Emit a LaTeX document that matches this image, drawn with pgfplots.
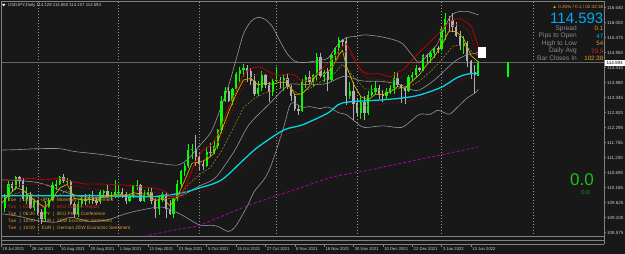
\documentclass[border=0pt]{standalone}
\usepackage{pgfplots}
\pgfplotsset{compat=1.18}
\usepackage{pgfplotstable}
\usepackage{fontspec}
\setmainfont{Liberation Sans}
\definecolor{bg}{RGB}{24,24,24}
\definecolor{framec}{RGB}{130,130,130}
\definecolor{sepc}{RGB}{150,150,150}
\definecolor{bullc}{RGB}{0,255,0}
\definecolor{bearc}{RGB}{175,175,175}
\definecolor{cyanl}{RGB}{0,215,225}
\definecolor{magl}{RGB}{175,0,175}
\definecolor{bbl}{RGB}{150,150,150}
\definecolor{redl}{RGB}{200,0,0}
\definecolor{dredl}{RGB}{140,10,10}
\definecolor{yell}{RGB}{205,180,0}
\definecolor{olivel}{RGB}{150,130,20}
\definecolor{txt}{RGB}{205,205,205}
\definecolor{orangec}{RGB}{230,155,40}
\definecolor{evred}{RGB}{215,40,30}
\definecolor{bluec}{RGB}{0,170,245}
\definecolor{greenc}{RGB}{30,190,30}
\newcommand{\fs}[1]{\fontsize{#1}{#1}\selectfont}

\pgfplotstableread{
x o h l c
1 109.45 109.95 109.30 109.85
2 109.85 110.40 109.70 110.30
4 110.15 110.60 110.10 110.55
7 109.78 110.20 109.60 109.90
9 109.45 109.75 109.35 109.70
12 109.05 109.70 108.95 109.50
13 109.50 109.80 109.45 109.75
14 109.75 110.37 109.70 110.25
15 110.25 110.45 110.10 110.30
16 110.30 110.60 110.25 110.55
18 110.38 110.50 110.30 110.42
21 109.25 109.70 109.15 109.60
22 109.60 109.90 109.50 109.75
24 109.72 109.95 109.60 109.80
27 109.65 110.10 109.60 110.00
28 110.00 110.10 109.80 110.05
30 109.85 110.00 109.75 109.90
31 109.90 110.45 109.80 110.00
32 110.00 110.25 109.85 110.02
35 109.70 109.90 109.65 109.85
36 109.85 110.25 109.80 110.25
37 110.25 110.45 110.10 110.28
39 109.70 110.10 109.68 109.90
40 109.90 110.15 109.85 110.00
43 109.40 109.90 109.20 109.75
44 109.75 110.00 109.65 109.95
47 109.25 109.85 109.10 109.80
48 109.80 110.45 109.70 110.30
49 110.30 110.80 110.20 110.75
50 110.75 111.05 110.60 110.95
51 110.95 111.70 110.85 111.50
52 111.50 111.70 111.20 111.55
56 110.95 111.60 110.90 111.45
58 111.40 111.85 111.35 111.65
59 111.65 112.25 111.55 112.20
60 112.20 113.40 112.10 113.25
61 113.25 113.75 113.20 113.60
63 113.25 113.70 113.10 113.65
64 113.65 114.25 113.60 114.20
65 114.20 114.45 113.90 114.35
66 114.35 114.55 114.10 114.40
70 113.50 113.95 113.40 113.70
71 113.70 114.30 113.60 114.15
74 113.55 114.00 113.40 113.95
75 113.95 114.45 113.90 114.00
77 113.95 114.20 113.60 114.05
82 112.90 114.00 112.85 113.90
83 113.90 114.15 113.70 114.10
85 113.90 114.20 113.75 114.15
86 114.15 114.95 113.95 114.80
88 114.10 114.35 113.90 114.25
90 114.00 114.90 113.95 114.85
91 114.85 115.15 114.70 115.10
92 115.10 115.50 114.90 115.40
95 113.40 113.90 113.30 113.60
98 112.80 113.40 112.60 113.20
100 112.80 113.60 112.75 113.45
101 113.45 113.80 113.40 113.55
102 113.55 113.95 113.50 113.70
105 113.40 113.70 113.30 113.55
106 113.55 113.80 113.50 113.70
107 113.70 114.25 113.50 114.05
111 113.60 114.15 113.55 114.10
112 114.10 114.25 113.95 114.15
113 114.15 114.50 114.05 114.40
115 114.35 114.90 114.30 114.85
117 114.80 115.00 114.60 114.95
118 114.95 115.15 114.75 115.10
120 115.08 115.85 115.00 115.80
121 115.80 116.35 115.40 116.15
126 115.20 115.55 114.90 115.30
130 114.128 114.650 114.107 114.593
}\bull

\pgfplotstableread{
x o h l c
0 110.05 110.10 109.35 109.45
3 110.30 110.38 110.00 110.15
5 110.55 110.59 110.20 110.40
6 110.40 110.50 109.70 109.78
8 109.90 110.00 109.40 109.45
10 109.70 109.75 109.20 109.30
11 109.30 109.40 108.90 109.05
17 110.55 110.65 110.35 110.40
19 110.42 110.45 109.55 109.60
20 109.60 109.65 109.10 109.25
23 109.75 109.95 109.55 109.72
25 109.80 110.05 109.60 109.70
26 109.70 109.85 109.55 109.65
29 110.05 110.25 109.80 109.85
33 110.02 110.15 109.80 109.95
34 109.95 110.00 109.60 109.70
38 110.28 110.30 109.65 109.70
41 110.00 110.15 109.60 109.70
42 109.70 109.80 109.10 109.40
45 109.95 110.00 109.10 109.40
46 109.40 109.75 109.20 109.25
53 111.55 112.05 110.95 111.25
54 111.25 111.40 110.80 111.00
55 111.00 111.10 110.80 110.95
57 111.45 111.75 111.25 111.40
62 113.60 113.75 113.20 113.25
67 114.40 114.50 113.90 114.30
68 114.30 114.40 113.80 113.95
69 113.95 114.20 113.40 113.50
72 114.15 114.20 113.70 113.80
73 113.80 113.90 113.20 113.55
76 114.00 114.10 113.70 113.95
78 114.05 114.20 113.65 113.75
79 113.75 113.80 113.25 113.40
80 113.40 113.50 112.90 112.95
81 112.95 113.10 112.75 112.90
84 114.10 114.30 113.80 113.90
87 114.80 114.95 114.05 114.12
89 114.25 114.40 113.60 114.00
93 115.40 115.45 115.20 115.35
94 115.35 115.50 113.10 113.40
96 113.60 113.90 112.55 113.15
97 113.15 113.35 112.70 112.80
99 113.20 113.40 112.55 112.80
103 113.70 113.80 113.30 113.50
104 113.50 113.60 113.20 113.40
108 114.05 114.25 113.75 113.80
109 113.80 113.85 113.15 113.70
110 113.70 113.75 113.15 113.60
114 114.40 114.45 114.25 114.35
116 114.85 114.90 114.60 114.80
119 115.10 115.20 114.95 115.08
122 116.15 116.25 115.70 116.10
123 116.10 116.35 115.70 115.85
124 115.85 116.05 115.50 115.55
125 115.55 115.70 115.05 115.20
127 115.30 115.35 114.45 114.65
128 114.65 114.70 114.00 114.20
129 114.25 114.50 113.50 114.15
}\bear

\begin{document}
\begin{tikzpicture}
\fill[bg] (0,0) rectangle (625bp,254bp);
\begin{axis}[
  at={(1bp,18bp)}, anchor=south west,
  width=603bp, height=235bp, scale only axis,
  xmin=-0.027, xmax=164.23, ymin=108.459, ymax=116.778,
  hide axis,
]
% period separators
\addplot[sepc, line width=0.5bp, dash pattern=on 1bp off 2bp] coordinates {(10,108) (10,117)};
\addplot[sepc, line width=0.5bp, dash pattern=on 1bp off 2bp] coordinates {(32,108) (32,117)};
\addplot[sepc, line width=0.5bp, dash pattern=on 1bp off 2bp] coordinates {(54,108) (54,117)};
\addplot[sepc, line width=0.5bp, dash pattern=on 1bp off 2bp] coordinates {(75,108) (75,117)};
\addplot[sepc, line width=0.5bp, dash pattern=on 1bp off 2bp] coordinates {(97,108) (97,117)};
\addplot[sepc, line width=0.5bp, dash pattern=on 1bp off 2bp] coordinates {(120,108) (120,117)};
\addplot[sepc, line width=0.5bp, dash pattern=on 1bp off 2bp] coordinates {(144.9,108) (144.9,117)};
% current price line
\addplot[color=black!60, line width=0.7bp] coordinates {(-1,114.593) (170,114.593)};

% candles: wicks and bodies
\addplot[draw=none, forget plot, error bars/.cd, y dir=both, y explicit, error mark=none,
  error bar style={color=bullc, line width=0.8bp}]
  table[x=x, y expr=(\thisrow{h}+\thisrow{l})/2, y error expr=(\thisrow{h}-\thisrow{l})/2] {\bull};
\addplot[draw=none, forget plot, error bars/.cd, y dir=both, y explicit, error mark=none,
  error bar style={color=bullc, line width=2.3bp}]
  table[x=x, y expr=(\thisrow{o}+\thisrow{c})/2, y error expr=abs(\thisrow{c}-\thisrow{o})/2] {\bull};
\addplot[draw=none, forget plot, error bars/.cd, y dir=both, y explicit, error mark=none,
  error bar style={color=bearc, line width=0.8bp}]
  table[x=x, y expr=(\thisrow{h}+\thisrow{l})/2, y error expr=(\thisrow{h}-\thisrow{l})/2] {\bear};
\addplot[draw=none, forget plot, error bars/.cd, y dir=both, y explicit, error mark=none,
  error bar style={color=bearc, line width=2.3bp}]
  table[x=x, y expr=(\thisrow{o}+\thisrow{c})/2, y error expr=abs(\thisrow{c}-\thisrow{o})/2] {\bear};

% Bollinger bands (gray)
\addplot[bbl, line width=0.6bp, smooth, tension=0.5] coordinates {
(0,111.50)(5,111.52)(10,111.55)(16,111.55)(20,111.45)(27,111.35)(32,111.25)(36,111.15)(42,111.05)(48,110.97)(51,111.20)(54,111.65)(57,112.10)(59,112.70)(62,113.80)(64,114.70)(66,115.60)(68,116.05)(70,116.20)(72,116.12)(74,115.85)(76,115.35)(78,114.90)(80,114.65)(82,114.60)(84,114.62)(87,114.69)(89,114.75)(92,115.28)(94,115.48)(97,115.53)(99,115.58)(104,115.50)(109,115.30)(112,114.85)(114,114.60)(117,114.99)(119,115.30)(122,116.15)(124,116.38)(127,116.41)(129,116.33)(130,116.29)};
\addplot[bbl, line width=0.6bp, smooth, tension=0.5] coordinates {
(0,110.45)(10,110.35)(19,109.95)(24,109.82)(29,109.83)(34,109.91)(39,109.85)(44,109.88)(49,109.89)(54,110.23)(57,110.40)(59,110.61)(62,111.16)(64,111.57)(67,112.30)(69,112.62)(72,113.00)(74,113.26)(77,113.67)(79,113.84)(82,113.82)(84,113.83)(87,113.83)(89,113.87)(92,114.05)(94,114.12)(97,113.99)(99,113.94)(104,113.93)(109,113.80)(112,113.63)(114,113.63)(117,113.88)(119,114.09)(122,114.46)(124,114.68)(127,114.88)(129,114.92)(130,114.97)};
\addplot[bbl, line width=0.6bp, smooth, tension=0.5] coordinates {
(0,109.25)(5,109.15)(10,109.00)(15,108.95)(19,109.12)(24,108.98)(29,109.03)(34,109.25)(39,109.40)(44,109.48)(49,109.22)(54,108.85)(57,108.84)(59,108.80)(62,108.62)(64,108.83)(67,109.50)(69,110.04)(72,110.53)(74,111.12)(77,112.32)(79,113.16)(82,113.01)(84,113.04)(87,112.97)(89,113.03)(92,112.82)(94,112.76)(97,112.45)(99,112.30)(104,112.36)(109,112.30)(112,112.57)(114,112.77)(117,112.77)(119,112.91)(122,112.77)(124,112.98)(127,113.35)(129,113.51)(130,113.65)};

% magenta dashed long average
\addplot[magl, line width=0.8bp, dash pattern=on 3bp off 2bp, smooth] coordinates {
(35,108.30)(40.6,108.49)(48.7,108.71)(54.2,108.85)(67.8,109.56)(81.4,110.16)(90.4,110.55)(100.5,110.80)(115,111.20)(130,111.61)};

% dark red dotted near cyan
\addplot[dredl, line width=0.6bp, dash pattern=on 1bp off 1.5bp, smooth] coordinates {
(40,109.75)(49,109.85)(54,110.02)(60,110.28)(66,110.95)(70,111.42)(77,112.02)(82,112.22)(89,112.65)(93,112.98)(103,113.12)(109,113.22)(114,113.32)(120,113.58)(124,113.90)(127,114.05)(130,114.10)};

% cyan average
\addplot[cyanl, line width=1.3bp, smooth, tension=0.5] coordinates {
(0,109.88)(27,109.88)(41,109.85)(49,109.98)(54,110.16)(60,110.44)(66,111.15)(70,111.61)(77,112.21)(82,112.39)(89,112.81)(93,113.17)(103,113.27)(109,113.34)(114,113.45)(120,113.73)(124,114.05)(127,114.19)(130,114.22)};

% olive dashed
\addplot[olivel, line width=0.6bp, dash pattern=on 2bp off 1.5bp] coordinates {
(0,109.80)(3,109.92)(6,110.03)(9,109.90)(12,109.67)(15,109.84)(18,110.07)(21,109.85)(24,109.82)(27,109.81)(30,109.86)(33,109.90)(36,109.92)(39,109.93)(42,109.84)(45,109.78)(48,109.80)(51,110.28)(54,110.63)(57,110.88)(60,111.46)(63,112.22)(66,113.00)(69,113.33)(72,113.53)(75,113.65)(78,113.75)(81,113.49)(84,113.67)(87,113.92)(90,114.10)(93,114.54)(96,114.11)(99,113.67)(102,113.64)(105,113.58)(108,113.68)(111,113.73)(114,113.95)(117,114.29)(120,114.69)(123,115.18)(126,115.24)(129,114.90)(130,114.86)};

% yellow fast average
\addplot[yell, line width=0.7bp] coordinates {
(0,109.60)(2,109.89)(4,110.17)(6,110.09)(8,109.84)(10,109.63)(12,109.46)(14,109.79)(16,110.16)(18,110.29)(20,109.79)(22,109.74)(24,109.76)(26,109.71)(28,109.89)(30,109.89)(32,109.95)(34,109.87)(36,109.99)(38,109.95)(40,109.95)(42,109.71)(44,109.80)(46,109.53)(48,109.85)(50,110.42)(52,111.04)(54,111.07)(56,111.17)(58,111.38)(60,112.18)(62,112.85)(64,113.48)(66,113.98)(68,114.04)(70,113.81)(72,113.88)(74,113.83)(76,113.91)(78,113.89)(80,113.47)(82,113.49)(84,113.76)(86,114.19)(88,114.19)(90,114.37)(92,114.87)(93,115.03)(94,114.49)(96,113.84)(98,113.39)(100,113.28)(102,113.48)(104,113.46)(106,113.56)(108,113.75)(110,113.69)(112,113.94)(114,114.18)(116,114.53)(118,114.81)(120,115.21)(122,115.71)(124,115.69)(126,115.45)(128,114.85)(130,114.62)};

% dark red dashed
\addplot[dredl, line width=0.7bp, dash pattern=on 2bp off 1.5bp, smooth, tension=0.5] coordinates {
(0,110.20)(4,110.25)(8,110.30)(12,110.28)(16,110.30)(19,110.25)(23,110.15)(27,110.10)(31,110.10)(35,110.08)(38,110.05)(42,110.00)(45,109.90)(47,109.78)(49,109.80)(51,110.15)(53,110.70)(55,111.15)(57,111.40)(59,111.75)(61,112.30)(63,112.90)(65,113.50)(67,113.95)(70,114.20)(72,114.20)(74,114.05)(76,113.95)(78,114.00)(80,113.95)(82,113.80)(84,113.80)(86,113.95)(88,114.20)(90,114.45)(92,114.75)(94,115.00)(96,114.75)(98,114.30)(100,114.05)(103,114.00)(106,113.95)(108,114.05)(110,114.15)(112,114.40)(115,114.80)(117,115.05)(119,115.30)(121,115.60)(123,115.90)(125,115.92)(127,115.75)(128,115.50)(129,115.15)(130,114.80)};

% red solid
\addplot[redl, line width=0.7bp, smooth, tension=0.5] coordinates {
(0,110.40)(4,110.45)(8,110.50)(12,110.45)(16,110.50)(19,110.40)(23,110.30)(27,110.30)(31,110.28)(35,110.25)(38,110.20)(42,110.15)(45,110.00)(47,109.85)(49,109.95)(51,110.45)(53,111.10)(55,111.50)(57,111.65)(59,112.05)(61,112.70)(63,113.30)(65,113.90)(67,114.30)(70,114.45)(72,114.35)(74,114.20)(76,114.15)(78,114.20)(80,114.15)(82,113.95)(84,114.00)(86,114.20)(88,114.45)(90,114.70)(92,115.00)(94,115.25)(96,114.80)(98,114.35)(100,114.20)(103,114.20)(106,114.10)(108,114.25)(110,114.40)(112,114.70)(115,115.10)(117,115.35)(119,115.60)(121,115.90)(123,116.10)(125,116.15)(127,116.00)(128,115.90)(129,115.55)(130,115.15)};

% today's range bar and box
\addplot[bullc, line width=2bp] coordinates {(138.1,114.09) (138.1,114.62)};
\fill[white] (axis cs:129.9,115.15) rectangle (axis cs:132.1,114.76);
\end{axis}

\begin{scope}[x=1bp, y=-1bp, yshift=254bp]
% frame and sub-window separators
\draw[framec, line width=0.7bp] (1,1) -- (604,1) -- (604,244);
\draw[framec, line width=0.7bp] (1,1) -- (1,244);
\draw[framec, line width=0.8bp] (1,236) -- (604,236);
\draw[framec, line width=0.8bp] (1,240) -- (604,240);
\draw[framec, line width=0.8bp] (1,244) -- (604,244);

% title
\fill[white] (2,4) -- (5.5,4) -- (3.75,6.3) -- cycle;
\node[anchor=west, inner sep=0, text=txt] at (8,5.3) {\fs{4.3bp}USDJPY,Daily 114.128 114.650 114.107 114.593};

% info panel
\node[anchor=east, inner sep=0, text=orangec] at (603.5,7) {\fs{4.6bp}▲ 0.35\% / 0.1 / 02:42:38};
\node[anchor=east, inner sep=0, text=bluec] at (603.5,18) {\fs{15bp}114.593};
\foreach \yy/\lab in {28.6/Spread, 36/Pips to Open, 43.5/High to Low, 51/Daily Avg, 58.4/Bar Closes In}
  \node[anchor=east, inner sep=0, text=black!45] at (577,\yy) {\fs{6.6bp}\lab};
\node[anchor=east, inner sep=0, text=orangec] at (603.5,28.6) {\fs{6.2bp}0.1};
\node[anchor=east, inner sep=0, text=bluec] at (603.5,36) {\fs{6.2bp}47};
\node[anchor=east, inner sep=0, text=orangec] at (603.5,43.5) {\fs{6.2bp}54};
\node[anchor=east, inner sep=0, text=evred] at (603.5,51) {\fs{6.2bp}70.9};
\node[anchor=east, inner sep=0, text=orangec] at (603.5,58.4) {\fs{6.2bp}102:38};

% big 0.0
\node[anchor=east, inner sep=0, text=greenc] at (594,180) {\fs{17bp}0.0};
\node[anchor=east, inner sep=0, text=greenc!80!black] at (590,192.5) {\fs{6bp}0.0};

% events
\foreach \yy/\tm/\cur/\ev/\col in {
  200/03:00/JPY/Monetary Policy Statement/orangec,
  207/03:00/JPY/BOJ Outlook Report/evred,
  214/06:30/JPY/BOJ Press Conference/orangec,
  221/10:00/EUR/ZEW Economic Sentiment/orangec,
  228/10:00/EUR/German ZEW Economic Sentiment/orangec}{
  \node[anchor=west, inner sep=0, text=\col] at (8,\yy) {\fs{4.7bp}Tue};
  \node[anchor=west, inner sep=0, text=\col] at (19.5,\yy) {\fs{4.7bp}|};
  \node[anchor=west, inner sep=0, text=\col] at (23,\yy) {\fs{4.7bp}\tm};
  \node[anchor=west, inner sep=0, text=\col] at (37.5,\yy) {\fs{4.7bp}|};
  \node[anchor=west, inner sep=0, text=\col] at (41.5,\yy) {\fs{4.7bp}\cur};
  \node[anchor=west, inner sep=0, text=\col] at (53,\yy) {\fs{4.7bp}|};
  \node[anchor=west, inner sep=0, text=\col] at (57,\yy) {\fs{4.7bp}\ev};
}

% price scale
\foreach \yy/\lab in {7.7/116.540, 22.7/116.000, 37.7/115.475, 52.7/114.950, 67.7/114.410, 82.7/113.880, 97.7/113.345, 112.7/112.820, 127.7/112.295, 142.7/111.755, 157.7/111.230, 172.7/110.690, 187.7/110.165, 202.7/109.625, 217.7/109.100, 232.7/108.575}{
  \draw[framec, line width=0.5bp] (604,\yy) -- (606,\yy);
  \node[anchor=west, inner sep=0, text=txt] at (607,\yy) {\fs{4.5bp}\lab};
}
\fill[white] (604.5,59.7) rectangle (624.5,65.7);
\node[anchor=west, inner sep=0, text=black] at (606.5,62.7) {\fs{4.5bp}114.593};

% date scale
\foreach \xx/\lab in {1.1/19 Jul 2021, 30.5/29 Jul 2021, 59.8/10 Aug 2021, 89.2/20 Aug 2021, 118.6/1 Sep 2021, 148/13 Sep 2021, 177.3/23 Sep 2021, 206.7/5 Oct 2021, 236/15 Oct 2021, 265.4/27 Oct 2021, 294.8/8 Nov 2021, 324.1/18 Nov 2021, 353.5/30 Nov 2021, 382.9/10 Dec 2021, 412.3/22 Dec 2021, 441.6/3 Jan 2022, 471/13 Jan 2022}{
  \draw[framec, line width=0.5bp] (\xx,244) -- (\xx,247);
  \node[anchor=west, inner sep=0, text=txt] at (\xx+1.2,249.5) {\fs{4.2bp}\lab};
}
\end{scope}
\pgfresetboundingbox
\useasboundingbox (0,0) rectangle (625bp,254bp);
\end{tikzpicture}
\end{document}
